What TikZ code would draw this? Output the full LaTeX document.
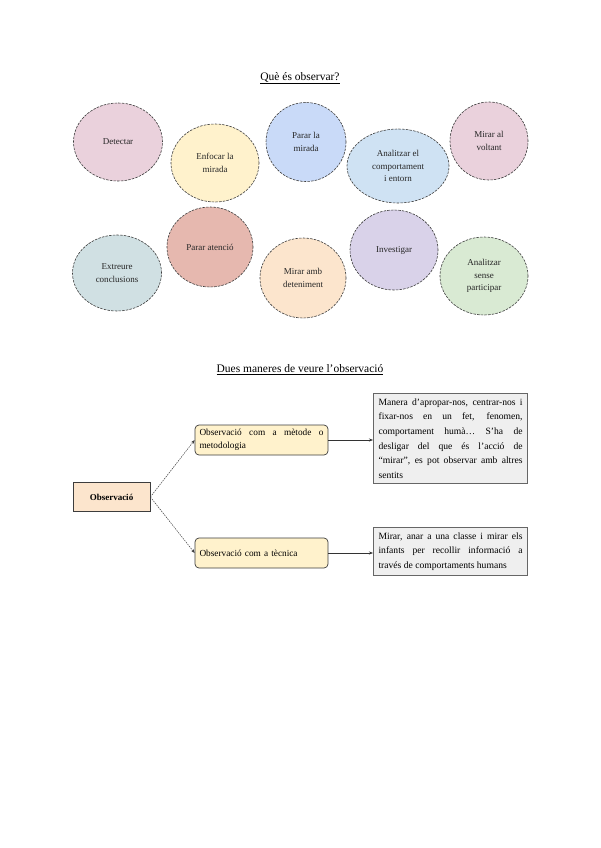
\documentclass[tikz,border=0pt]{standalone}
\usepackage{fontspec}
\setmainfont{Liberation Serif}
\usetikzlibrary{shapes.geometric,arrows.meta}
\definecolor{cpink}{HTML}{EAD1DC}
\definecolor{cyellow}{HTML}{FFF2CC}
\definecolor{cblue}{HTML}{C9DAF8}
\definecolor{clblue}{HTML}{CFE2F3}
\definecolor{cteal}{HTML}{D0E0E3}
\definecolor{cred}{HTML}{E6B8AF}
\definecolor{corange}{HTML}{FCE5CD}
\definecolor{cpurple}{HTML}{D9D2E9}
\definecolor{cgreen}{HTML}{D9EAD3}
\definecolor{cgray}{HTML}{EFEFEF}
\definecolor{cline}{HTML}{3D3D3D}
\tikzset{
  bubble/.style={ellipse, draw=cline, line width=0.6pt, dash pattern=on 2.5pt off 1.2pt,
    inner sep=0pt, align=center, font=\fontsize{9}{12.5}\selectfont, text=black!85},
  titletext/.style={font=\fontsize{11.5}{13}\selectfont},
  rbox/.style={draw=cline, line width=0.7pt, rounded corners=4pt, fill=cyellow,
    minimum width=133pt, minimum height=30pt, inner sep=0pt,
    font=\fontsize{9.3}{13}\selectfont},
  tbox/.style={draw=black!60, line width=1.1pt, fill=cgray, text width=144pt, inner xsep=5pt,
    inner ysep=5pt, align=justify, font=\fontsize{9.6}{14.6}\selectfont},
  dashconn/.style={draw=cline, line width=0.5pt, dash pattern=on 1.5pt off 1pt, -{Stealth[length=4pt,width=3pt]}},
  solconn/.style={draw=black!80, line width=0.6pt, -{Stealth[length=4pt,width=3pt]}}
}
\begin{document}
\begin{tikzpicture}[x=1pt,y=-1pt]
\useasboundingbox[fill=white] (0,0) rectangle (600,848);
% Titles
\node[titletext] (t1) at (300,78) {\underline{Què és observar?}};
\node[titletext] (t2) at (300,370) {\underline{Dues maneres de veure l'observació}};
% Bubbles row 1
\node[bubble, fill=cpink, minimum width=89pt, minimum height=78pt] (b1) at (118,142) {Detectar};
\node[bubble, fill=cyellow, minimum width=88pt, minimum height=78pt] (b2) at (215,163) {Enfocar la\\mirada};
\node[bubble, fill=cblue, minimum width=80pt, minimum height=79pt] (b3) at (306,142) {Parar la\\mirada};
\node[bubble, fill=clblue, minimum width=102pt, minimum height=74pt] (b4) at (398,166) {Analitzar el\\comportament\\i entorn};
\node[bubble, fill=cpink, minimum width=78pt, minimum height=78pt] (b5) at (489,141) {Mirar al\\voltant};
% Bubbles row 2
\node[bubble, fill=cteal, minimum width=89pt, minimum height=76pt] (b6) at (117,273) {Extreure\\conclusions};
\node[bubble, fill=cred, minimum width=86pt, minimum height=80pt] (b7) at (210,247) {Parar atenció};
\node[bubble, fill=corange, minimum width=86pt, minimum height=80pt] (b8) at (303,278) {Mirar amb\\deteniment};
\node[bubble, fill=cpurple, minimum width=88pt, minimum height=80pt] (b9) at (394,250) {Investigar};
\node[bubble, fill=cgreen, minimum width=88pt, minimum height=78pt] (b10) at (484,276) {Analitzar\\sense\\participar};
% Bottom diagram
\node[draw=cline, line width=0.7pt, fill=corange, minimum width=77pt, minimum height=29pt,
  inner sep=0pt, font=\bfseries\fontsize{9}{11}\selectfont] (obs) at (111.5,497) {Observació};
\node[rbox, text width=124pt, align=justify] (m1) at (261.5,440) {Observació com a mètode o metodologia};
\node[rbox, text width=124pt, align=left] (m2) at (261.5,553) {Observació com a tècnica};
\node[tbox, anchor=north west] (d1) at (373,393) {Manera d'apropar-nos, centrar-nos i\linebreak fixar-nos en un fet, fenomen,\linebreak comportament humà\ldots{} S'ha de\linebreak desligar del que és l'acció de\linebreak “mirar”, es pot observar amb altres\linebreak sentits};
\node[tbox, anchor=north west] (d2) at (373,527) {Mirar, anar a una classe i mirar els\linebreak infants per recollir informació a\linebreak través de comportaments humans};
% Connectors
\path[dashconn] (obs.east) -- (m1.west);
\path[dashconn] (obs.east) -- (m2.west);
\path[solconn] (m1.east) -- (m1.east -| d1.west);
\path[solconn] (m2.east) -- (m2.east -| d2.west);
\end{tikzpicture}
\end{document}
